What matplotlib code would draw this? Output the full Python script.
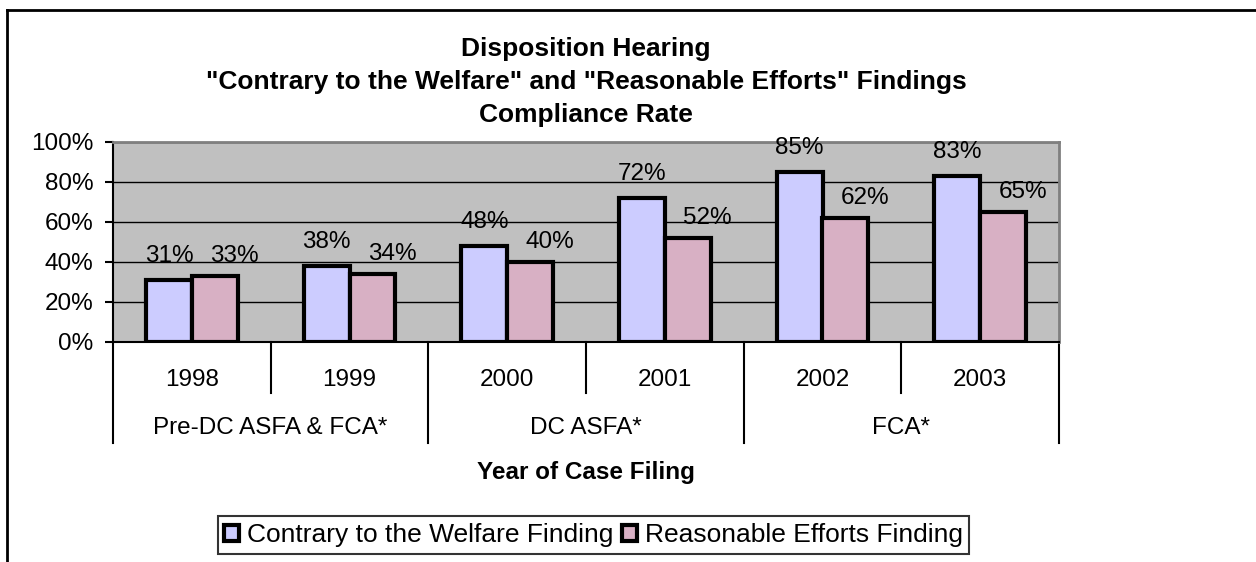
import matplotlib
matplotlib.use('Agg')
import matplotlib.pyplot as plt
from matplotlib.patches import Patch
from matplotlib.lines import Line2D
import matplotlib.transforms as mtransforms

plt.rcParams['font.family'] = ['Liberation Sans', 'DejaVu Sans']

# chart data
years = ['1998', '1999', '2000', '2001', '2002', '2003']
groups = ['Pre-DC ASFA & FCA*', 'DC ASFA*', 'FCA*']
contrary = [31, 38, 48, 72, 85, 83]
reasonable = [33, 34, 40, 52, 62, 65]
series_names = ['Contrary to the Welfare Finding', 'Reasonable Efforts Finding']
yticks = [0, 20, 40, 60, 80, 100]

W, H = 1256, 562
fig = plt.figure(figsize=(W / 100, H / 100), dpi=100)

# plot area in pixel terms
left, right, top, bottom = 113, 1059, 142, 342
ax = fig.add_axes([left / W, 1 - bottom / H, (right - left) / W, (bottom - top) / H])
ax.set_facecolor('#C0C0C0')

x = list(range(len(years)))
bw = 0.29
c1 = '#CCCCFF'
c2 = '#D8B0C4'
b1 = ax.bar([i - bw / 2 for i in x], contrary, bw, color=c1, edgecolor='black', linewidth=3, zorder=3)
b2 = ax.bar([i + bw / 2 for i in x], reasonable, bw, color=c2, edgecolor='black', linewidth=3, zorder=3)

# value labels above bars (excel nudged the second series to the right)
for rects, vals, off in ((b1, contrary, (0, 24)), (b2, reasonable, (20, 20))):
    for r, v in zip(rects, vals):
        ax.annotate(str(v) + '%', (r.get_x() + r.get_width() / 2, v), xytext=off,
                    textcoords='offset pixels', ha='center', va='center', fontsize=17.5, zorder=4)

ax.set_xlim(-0.5, len(years) - 0.5)
ax.set_ylim(0, 100)
ax.set_yticks(yticks)
ax.set_yticklabels([str(t) + '%' for t in yticks], fontsize=17.5)
ax.tick_params(axis='y', direction='out', length=6, width=1.5, pad=8)
ax.set_xticks([])
ax.yaxis.grid(True, color='black', linewidth=1, zorder=0)
ax.set_axisbelow(True)
for s in ['top', 'right']:
    ax.spines[s].set_color('#808080')
    ax.spines[s].set_linewidth(2)
ax.spines['left'].set_linewidth(1.5)
ax.spines['bottom'].set_linewidth(1.5)

# multi-level category axis
trans = mtransforms.blended_transform_factory(ax.transData, ax.transAxes)
for i, yr in enumerate(years):
    ax.text(i, -0.19, yr, transform=trans, ha='center', va='center', fontsize=17.5)
for k in range(len(years) + 1):
    xb = k - 0.5
    ybot = -0.505 if k % 2 == 0 else -0.255
    ax.add_line(Line2D([xb, xb], [0, ybot], transform=trans, color='black', linewidth=1.5, clip_on=False))
for g, name in enumerate(groups):
    ax.text(2 * g + 0.5, -0.43, name, transform=trans, ha='center', va='center', fontsize=17.5)

ax.text(0.5, -0.65, 'Year of Case Filing', transform=ax.transAxes, ha='center', va='center',
        fontsize=17.5, fontweight='bold')

fig.text((left + right) / 2 / W, 1 - 82 / H,
         'Disposition Hearing\n"Contrary to the Welfare" and "Reasonable Efforts" Findings\nCompliance Rate',
         ha='center', va='center', fontsize=19, fontweight='bold', linespacing=1.47)

handles = [Patch(facecolor=c1, edgecolor='black', linewidth=3), Patch(facecolor=c2, edgecolor='black', linewidth=3)]
leg = fig.legend(handles, series_names, loc='center', bbox_to_anchor=(593.5 / W, 1 - 535 / H),
                 ncol=2, fontsize=19, frameon=True, fancybox=False, edgecolor='black',
                 handlelength=0.55, handleheight=0.55, handletextpad=0.3, columnspacing=0.35,
                 borderpad=0.25, borderaxespad=0)
leg.get_frame().set_linewidth(1.5)

# outer chart frame (top and left)
fig.add_artist(Line2D([7 / W, 1], [1 - 10 / H, 1 - 10 / H], color='black', linewidth=2))
fig.add_artist(Line2D([7 / W, 7 / W], [1 - 10 / H, 0], color='black', linewidth=2))

fig.savefig('out.png', dpi=100)
